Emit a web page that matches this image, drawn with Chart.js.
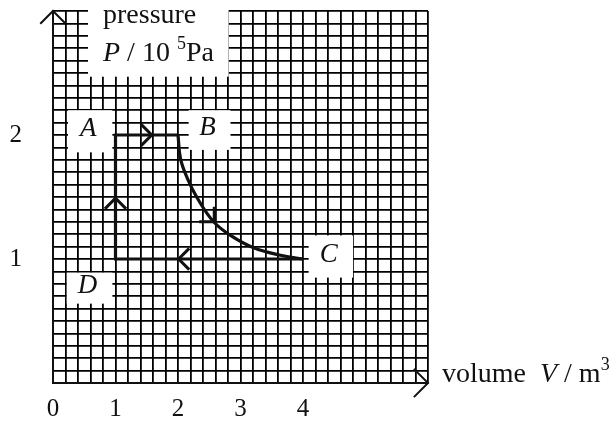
<!DOCTYPE html>
<html lang="en">
<head>
    <meta charset="UTF-8">
    <title>P-V cycle</title>
    <script src="https://cdn.jsdelivr.net/npm/chart.js"></script>
    <style>
        body { margin: 0; background: #fff; }
        #wrap { width: 613px; height: 424px; }
    </style>
</head>
<body>
    <div id="wrap"><canvas id="pv" width="613" height="424"></canvas></div>

    <script>
        // tick labels (only these values get a number)
        const xTickValues = [0, 1, 2, 3, 4];
        const xTickLabels = ['0', '1', '2', '3', '4'];
        const yTickValues = [1, 2];
        const yTickLabels = ['1', '2'];

        // corners of the cycle
        const pointNames = ['A', 'B', 'C', 'D'];
        const pointV = [1, 2, 4, 1];
        const pointP = [2, 2, 1, 1];

        // B -> C curve
        const curveV = [2, 2.04, 2.15, 2.31, 2.57, 2.84, 3.21, 3.64, 4];
        const curveP = [2, 1.81, 1.65, 1.49, 1.30, 1.19, 1.09, 1.03, 1];

        // arrow heads on the path
        const arrowV = [1.58, 2.58, 2.01, 1];
        const arrowP = [2, 1.30, 1, 1.49];
        const arrowDeg = [0, 45, 180, -90];

        const serif = '"Liberation Serif", "DejaVu Serif", serif';
        const ink = '#111';

        // straight part C -> D -> A -> B
        const straight = [2, 3, 0, 1].map(i => ({ x: pointV[i], y: pointP[i] }));
        const curve = curveV.map((v, i) => ({ x: v, y: curveP[i] }));

        function tickText(value, vals, labels) {
            const i = vals.findIndex(v => Math.abs(v - value) < 1e-6);
            return i >= 0 ? labels[i] : '';
        }

        // white patches behind the labels (data coords)
        const patches = [
            { v0: 0.56, v1: 2.81, p0: 2.47, p1: 3.3 },
            { v0: 0.24, v1: 0.95, p0: 1.86, p1: 2.20, name: 'A' },
            { v0: 2.17, v1: 2.84, p0: 1.88, p1: 2.20, name: 'B' },
            { v0: 4.09, v1: 4.80, p0: 0.85, p1: 1.19, name: 'C' },
            { v0: 0.22, v1: 0.95, p0: 0.64, p1: 0.89, name: 'D' }
        ];

        function drawParts(ctx, x, y, parts) {
            parts.forEach(p => {
                ctx.font = (p.italic ? 'italic ' : '') + (p.sup ? '18px ' : '28px ') + serif;
                ctx.fillText(p.t, x, p.sup ? y - 12 : y);
                x += ctx.measureText(p.t).width;
            });
        }

        function chevron(ctx, x, y, deg, len) {
            const a = deg * Math.PI / 180;
            ctx.beginPath();
            [a + Math.PI * 0.75, a - Math.PI * 0.75].forEach((b, k) => {
                const ex = x + len * Math.cos(b), ey = y + len * Math.sin(b);
                if (k === 0) { ctx.moveTo(ex, ey); ctx.lineTo(x, y); }
                else ctx.lineTo(ex, ey);
            });
            ctx.stroke();
        }

        const decor = {
            id: 'decor',
            beforeDatasetsDraw(chart) {
                const { ctx, scales: { x, y } } = chart;
                ctx.save();
                ctx.fillStyle = '#fff';
                patches.forEach(b => {
                    const l = x.getPixelForValue(b.v0), r = x.getPixelForValue(b.v1);
                    const t = y.getPixelForValue(b.p1), btm = y.getPixelForValue(b.p0);
                    ctx.fillRect(l, t, r - l, btm - t);
                });
                ctx.restore();
            },
            afterDatasetsDraw(chart) {
                const { ctx, chartArea: area, scales: { x, y } } = chart;
                ctx.save();

                // arrows on the cycle
                ctx.strokeStyle = ink;
                ctx.lineWidth = 3;
                ctx.lineJoin = 'miter';
                arrowV.forEach((v, i) => {
                    chevron(ctx, x.getPixelForValue(v), y.getPixelForValue(arrowP[i]), arrowDeg[i], 15);
                });

                // axis arrow heads
                ctx.lineWidth = 2;
                chevron(ctx, area.left, area.top, -90, 18);
                chevron(ctx, area.right, area.bottom, 0, 20);

                // corner letters
                ctx.fillStyle = ink;
                ctx.textAlign = 'center';
                ctx.textBaseline = 'middle';
                ctx.font = 'italic 27px ' + serif;
                patches.filter(b => b.name).forEach(b => {
                    const cx = (x.getPixelForValue(b.v0) + x.getPixelForValue(b.v1)) / 2;
                    const cy = (y.getPixelForValue(b.p0) + y.getPixelForValue(b.p1)) / 2;
                    ctx.fillText(b.name, cx - 2, cy - 2);
                });

                // axis titles
                ctx.textAlign = 'left';
                ctx.textBaseline = 'alphabetic';
                const tx = x.getPixelForValue(0.8);
                ctx.font = '28px ' + serif;
                ctx.fillText('pressure', tx, area.top + 12);
                drawParts(ctx, tx, area.top + 50, [
                    { t: 'P', italic: true },
                    { t: ' / 10 ' },
                    { t: '5', sup: true },
                    { t: 'Pa' }
                ]);
                drawParts(ctx, area.right + 14, area.bottom - 1, [
                    { t: 'volume  ' },
                    { t: 'V', italic: true },
                    { t: ' / m' },
                    { t: '3', sup: true }
                ]);
                ctx.restore();
            }
        };

        const gridStyle = { color: '#000', lineWidth: 1.8, drawTicks: false };

        new Chart(document.getElementById('pv'), {
            type: 'scatter',
            data: {
                datasets: [
                    { data: straight, showLine: true, tension: 0 },
                    { data: curve, showLine: true, tension: 0.4 }
                ]
            },
            options: {
                responsive: false,
                animation: false,
                layout: { padding: { top: 11, right: 185, left: 0, bottom: 0 } },
                elements: {
                    point: { radius: 0, hoverRadius: 0 },
                    line: { borderColor: ink, borderWidth: 3.2, borderJoinStyle: 'miter', fill: false }
                },
                plugins: { legend: { display: false }, tooltip: { enabled: false } },
                scales: {
                    x: {
                        type: 'linear', min: 0, max: 6,
                        grid: gridStyle,
                        border: { display: true, color: '#111', width: 2 },
                        ticks: {
                            stepSize: 0.2, maxTicksLimit: 100, autoSkip: false, maxRotation: 0,
                            padding: 11, color: ink, font: { family: serif, size: 25 },
                            callback: v => tickText(v, xTickValues, xTickLabels)
                        },
                        afterFit(s) { s.height = 41; s.paddingLeft = 0; s.paddingRight = 0; }
                    },
                    y: {
                        type: 'linear', min: 0, max: 3,
                        grid: gridStyle,
                        border: { display: true, color: '#111', width: 2 },
                        ticks: {
                            stepSize: 0.1, maxTicksLimit: 100, autoSkip: false,
                            padding: 31, color: ink, font: { family: serif, size: 25 },
                            callback: v => tickText(v, yTickValues, yTickLabels)
                        },
                        afterFit(s) { s.width = 53; s.paddingTop = 0; s.paddingBottom = 0; }
                    }
                }
            },
            plugins: [decor]
        });
    </script>
</body>
</html>
